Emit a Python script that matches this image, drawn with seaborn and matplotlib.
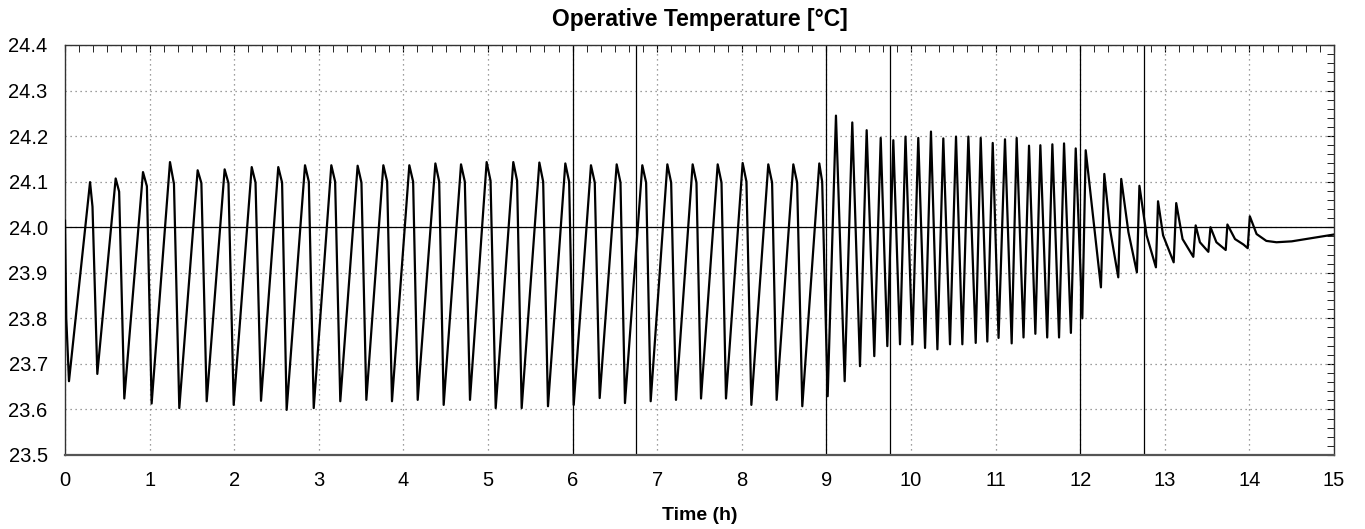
import numpy as np
import pandas as pd
import matplotlib
matplotlib.use("Agg")
import matplotlib.pyplot as plt
from matplotlib.ticker import MultipleLocator, FormatStrFormatter
import seaborn as sns

# ---------------- data ----------------
start_t = [0.0, 0.015]
start_v = [24.015, 23.80]

# phase 1: 0 - 9 h, slow rise / fast fall cycles
p1_trough_t = [0.047, 0.382, 0.701, 1.024, 1.351, 1.675, 1.994, 2.317, 2.620, 2.940,
               3.254, 3.562, 3.865, 4.169, 4.476, 4.787, 5.091, 5.398, 5.709, 6.013,
               6.320, 6.619, 6.923, 7.222, 7.518, 7.813, 8.113, 8.412, 8.715, 9.015]
p1_trough_v = [23.662, 23.678, 23.624, 23.613, 23.603, 23.618, 23.610, 23.619, 23.599, 23.603,
               23.618, 23.621, 23.618, 23.621, 23.610, 23.621, 23.603, 23.603, 23.607, 23.610,
               23.625, 23.614, 23.618, 23.621, 23.624, 23.624, 23.610, 23.621, 23.607, 23.629]
p1_peak_t = [0.296, 0.599, 0.922, 1.241, 1.568, 1.887, 2.207, 2.521, 2.837, 3.148,
             3.459, 3.763, 4.070, 4.378, 4.681, 4.984, 5.299, 5.607, 5.914, 6.217,
             6.521, 6.824, 7.120, 7.419, 7.715, 8.010, 8.313, 8.609, 8.916]
p1_peak_v = [24.099, 24.107, 24.121, 24.143, 24.125, 24.127, 24.132, 24.132, 24.136, 24.136,
             24.135, 24.136, 24.136, 24.140, 24.138, 24.143, 24.143, 24.142, 24.140, 24.136,
             24.138, 24.136, 24.138, 24.138, 24.138, 24.141, 24.138, 24.138, 24.140]
p1_shoulder_t = [0.325, 0.640, 0.968, 1.288, 1.612, 1.932, 2.252, 2.566, 2.882, 3.193,
                 3.504, 3.808, 4.115, 4.423, 4.726, 5.030, 5.344, 5.652, 5.959, 6.262,
                 6.566, 6.869, 7.165, 7.464, 7.760, 8.055, 8.358, 8.654, 8.950]
p1_shoulder_v = [24.045, 24.078, 24.090, 24.095, 24.097, 24.097, 24.098, 24.098, 24.100, 24.100,
                 24.098, 24.100, 24.100, 24.100, 24.100, 24.102, 24.102, 24.100, 24.100, 24.098,
                 24.098, 24.098, 24.098, 24.098, 24.098, 24.100, 24.098, 24.098, 24.100]

# phase 2: 9 - 12 h, fast cycles
p2_peak_t = [9.113, 9.306, 9.476, 9.642, 9.791, 9.935, 10.086, 10.236, 10.382, 10.532,
             10.678, 10.824, 10.966, 11.111, 11.249, 11.395, 11.529, 11.671, 11.809, 11.947, 12.065]
p2_peak_v = [24.245, 24.230, 24.213, 24.196, 24.191, 24.199, 24.196, 24.210, 24.195, 24.199,
             24.199, 24.196, 24.185, 24.193, 24.196, 24.179, 24.180, 24.182, 24.184, 24.173, 24.169]
p2_trough_t = [9.216, 9.397, 9.566, 9.720, 9.870, 10.016, 10.166, 10.312, 10.461, 10.607,
               10.765, 10.902, 11.035, 11.190, 11.330, 11.470, 11.610, 11.750, 11.890, 12.025]
p2_trough_v = [23.662, 23.695, 23.717, 23.739, 23.743, 23.743, 23.735, 23.732, 23.743, 23.743,
               23.746, 23.749, 23.757, 23.745, 23.758, 23.766, 23.758, 23.758, 23.768, 23.800]

# phase 3: 12 - 15 h, damped cycles
p3_trough_t = [12.245, 12.450, 12.670, 12.895, 13.105, 13.337, 13.515, 13.720, 13.980]
p3_trough_v = [23.868, 23.890, 23.901, 23.912, 23.923, 23.935, 23.946, 23.950, 23.954]
p3_peak_t = [12.285, 12.485, 12.700, 12.920, 13.135, 13.365, 13.540, 13.740, 14.005]
p3_peak_v = [24.117, 24.106, 24.091, 24.057, 24.053, 24.004, 24.000, 24.006, 24.024]
p3_decay_t = [12.352, 12.570, 12.785, 12.980, 13.210, 13.415, 13.610, 13.830, 13.930]
p3_decay_v = [23.996, 23.989, 23.982, 23.982, 23.974, 23.967, 23.967, 23.974, 23.962]
tail_t = [14.085, 14.200, 14.320, 14.500, 14.700, 15.000]
tail_v = [23.985, 23.970, 23.967, 23.969, 23.975, 23.984]

setpoint = 24.0
event_lines = [6.0, 6.75, 9.0, 9.75, 12.0, 12.75]

title = "Operative Temperature [°C]"
xlabel = "Time (h)"

# ---------------- assemble ----------------
times = (start_t + p1_trough_t + p1_peak_t + p1_shoulder_t + p2_peak_t + p2_trough_t
         + p3_trough_t + p3_peak_t + p3_decay_t + tail_t)
temps = (start_v + p1_trough_v + p1_peak_v + p1_shoulder_v + p2_peak_v + p2_trough_v
         + p3_trough_v + p3_peak_v + p3_decay_v + tail_v)
df = pd.DataFrame({"time": times, "temp": temps}).sort_values("time").reset_index(drop=True)

# ---------------- plot ----------------
sns.set_style("white")
plt.rcParams["font.family"] = ["Liberation Sans", "DejaVu Sans"]
plt.rcParams["text.color"] = "black"
plt.rcParams["axes.labelcolor"] = "black"
plt.rcParams["xtick.color"] = "black"
plt.rcParams["ytick.color"] = "black"

fig = plt.figure(figsize=(13.65, 5.29), dpi=100)
ax = fig.add_axes([65 / 1365, 1 - 455 / 529, (1334 - 65) / 1365, (455 - 45) / 529])

ax.set_xlim(0, 15)
ax.set_ylim(23.5, 24.4)

ax.xaxis.set_major_locator(MultipleLocator(1))
ax.xaxis.set_minor_locator(MultipleLocator(1 / 6))
ax.yaxis.set_major_locator(MultipleLocator(0.1))
ax.yaxis.set_minor_locator(MultipleLocator(0.02))
ax.yaxis.set_major_formatter(FormatStrFormatter("%.1f"))

ax.grid(True, which="major", color="#7f7f7f", linestyle=(0, (1, 3)), linewidth=0.9)

for xv in event_lines:
    ax.axvline(xv, color="black", linewidth=0.9, zorder=2)
ax.axhline(setpoint, color="black", linewidth=0.9, zorder=2)

sns.lineplot(data=df, x="time", y="temp", ax=ax, color="black", linewidth=1.6,
             estimator=None, sort=False, zorder=3)

ax.set_title(title, fontsize=16.5, fontweight="bold", pad=14, color="black")
ax.set_xlabel(xlabel, fontsize=14, fontweight="bold", labelpad=12, color="black")
ax.set_ylabel("")

ax.tick_params(axis="both", which="major", direction="inout", length=7, width=1,
               labelsize=14.5, color="black", labelcolor="black")
ax.tick_params(axis="both", which="minor", direction="inout", length=5, width=0.8, color="black")
ax.tick_params(axis="x", which="major", pad=8)
ax.tick_params(axis="y", which="major", pad=9)

for s in ax.spines.values():
    s.set_color("#333333")
    s.set_linewidth(1.0)
ax.spines["bottom"].set_color("#555555")
ax.spines["bottom"].set_linewidth(1.6)

# top & right inward ticks
top = ax.secondary_xaxis("top")
top.xaxis.set_major_locator(MultipleLocator(1))
top.xaxis.set_minor_locator(MultipleLocator(1 / 6))
top.tick_params(which="major", direction="in", length=5, labeltop=False, color="black")
top.tick_params(which="minor", direction="in", length=5, labeltop=False, color="black")
top.spines["top"].set_visible(False)
right = ax.secondary_yaxis("right")
right.yaxis.set_major_locator(MultipleLocator(0.1))
right.yaxis.set_minor_locator(MultipleLocator(0.02))
right.tick_params(which="major", direction="in", length=5, labelright=False, color="black")
right.tick_params(which="minor", direction="in", length=5, labelright=False, color="black")
right.spines["right"].set_visible(False)

fig.savefig("out.png", dpi=100)
